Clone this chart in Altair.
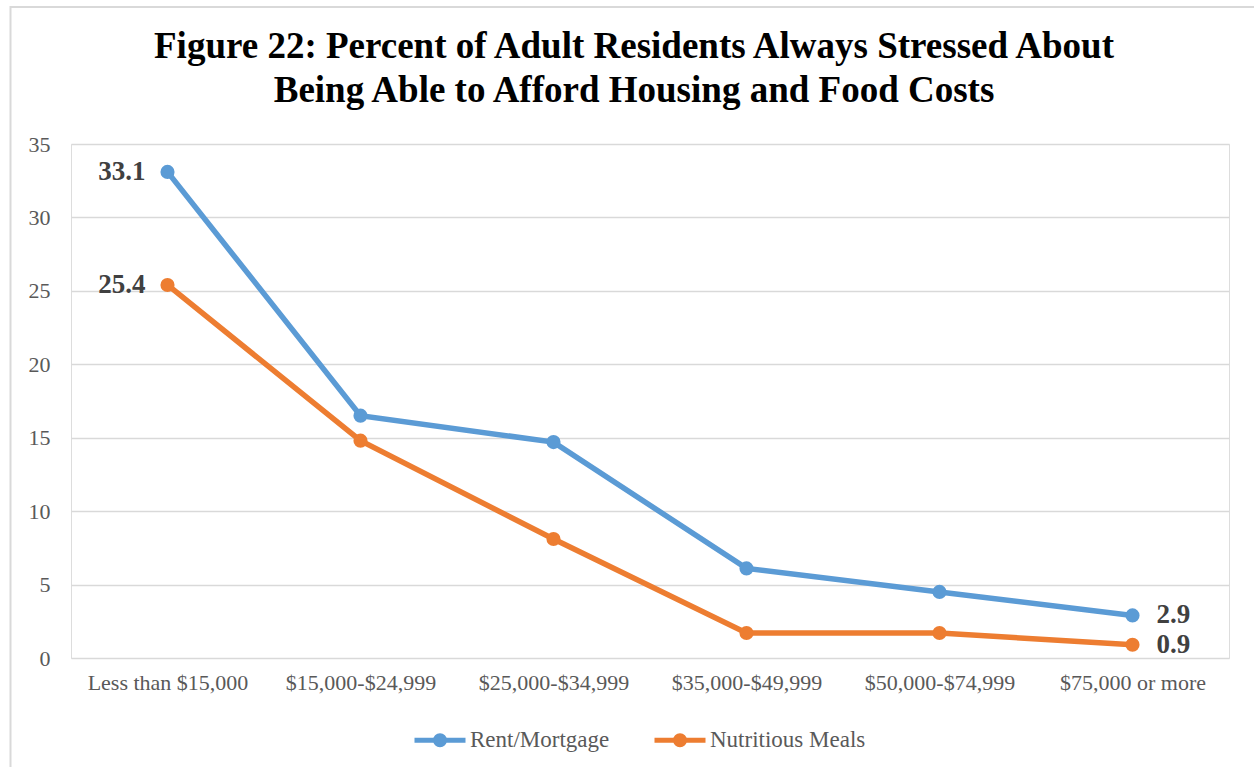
import altair as alt
import pandas as pd

categories = ["Less than $15,000", "$15,000-$24,999", "$25,000-$34,999",
              "$35,000-$49,999", "$50,000-$74,999", "$75,000 or more"]
series_names = ["Rent/Mortgage", "Nutritious Meals"]
rent_values = [33.1, 16.5, 14.7, 6.1, 4.5, 2.9]
meals_values = [25.4, 14.8, 8.1, 1.7, 1.7, 0.9]
colors = ["#5B9BD5", "#ED7D31"]
y_ticks = [0, 5, 10, 15, 20, 25, 30, 35]

rows = []
for cat, v in zip(categories, rent_values):
    rows.append({"cat": cat, "series": series_names[0], "value": v})
for cat, v in zip(categories, meals_values):
    rows.append({"cat": cat, "series": series_names[1], "value": v})
df = pd.DataFrame(rows)

FONT = "Liberation Serif"
W, H = 1158, 514

x_enc = alt.X("cat:N", sort=categories, title=None,
              scale=alt.Scale(type="point", padding=0.5),
              axis=alt.Axis(labelAngle=0, labelFont=FONT, labelFontSize=22,
                            labelColor="#595959", labelPadding=14, ticks=False,
                            domain=False, grid=False))
y_enc = alt.Y("value:Q", title=None,
              scale=alt.Scale(domain=[0, 35], nice=False),
              axis=alt.Axis(values=y_ticks, labelFont=FONT, labelFontSize=22,
                            labelColor="#595959", labelPadding=21, ticks=False,
                            domain=False, grid=True, gridColor="#d9d9d9",
                            gridWidth=1.5))
color_enc = alt.Color("series:N", sort=series_names,
                      scale=alt.Scale(domain=series_names, range=colors),
                      legend=alt.Legend(
                          title=None, orient="none", direction="horizontal",
                          legendX=341, legendY=568,
                          symbolType="M-1,0L1,0M0.176,0A0.176,0.176,0,1,1,-0.176,0A0.176,0.176,0,1,1,0.176,0M0.059,0A0.059,0.059,0,1,1,-0.059,0A0.059,0.059,0,1,1,0.059,0",
                          symbolSize=2601, symbolStrokeWidth=5,
                          labelFont=FONT, labelFontSize=23, labelColor="#595959",
                          labelOffset=2, columnPadding=34))

border = alt.Chart(pd.DataFrame({"a": [0]})).mark_rect(
    fill=None, stroke="#d9d9d9", strokeWidth=2
).encode(x=alt.value(-60.5), x2=alt.value(1300), y=alt.value(-137), y2=alt.value(700))

lines = alt.Chart(df).mark_line(strokeWidth=5.5, strokeCap="round").encode(
    x=x_enc, y=y_enc, color=color_enc)
points = alt.Chart(df).mark_point(filled=True, size=200, opacity=1).encode(
    x=alt.X("cat:N", sort=categories), y="value:Q",
    color=alt.Color("series:N", sort=series_names, legend=None))

first_labels = alt.Chart(df).transform_filter(
    alt.datum.cat == categories[0]
).mark_text(align="right", baseline="middle", dx=-22, font=FONT, fontSize=27,
            fontWeight="bold", color="#404040").encode(
    x=alt.X("cat:N", sort=categories), y="value:Q",
    text=alt.Text("value:Q", format=".1f"))
last_labels = alt.Chart(df).transform_filter(
    alt.datum.cat == categories[-1]
).mark_text(align="left", baseline="middle", dx=24, font=FONT, fontSize=27,
            fontWeight="bold", color="#404040").encode(
    x=alt.X("cat:N", sort=categories), y="value:Q",
    text=alt.Text("value:Q", format=".1f"))

chart = alt.layer(border, lines, points, first_labels, last_labels).properties(
    width=W, height=H,
    title=alt.Title(
        ["Figure 22: Percent of  Adult Residents Always Stressed About",
         "Being Able to Afford Housing and Food Costs"],
        font=FONT, fontSize=37, fontWeight="bold", color="#000000",
        anchor="middle", dx=-16, offset=-104, lineHeight=44),
    autosize=alt.AutoSizeParams(type="none"),
    padding={"left": 71, "top": 144, "right": 25, "bottom": 109},
).configure_view(stroke=None).configure(background="white")

chart.save("out.html", embed_options={"renderer": "svg", "actions": False})
